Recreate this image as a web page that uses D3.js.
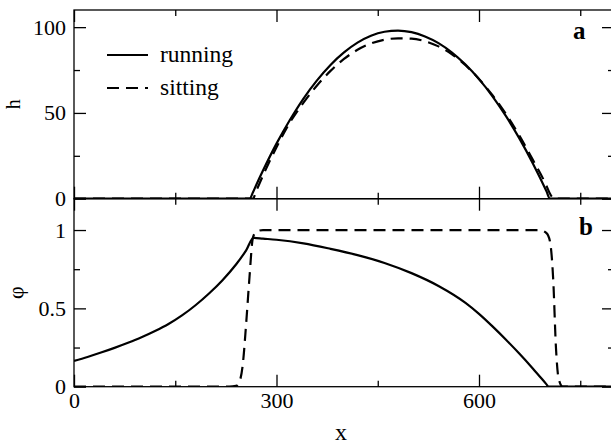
<!DOCTYPE html>
<html>
<head>
<meta charset="utf-8">
<script src="https://cdn.jsdelivr.net/npm/d3@7"></script>
</head>
<body style="margin:0">
<svg id="chart" width="611" height="444"></svg>
<script>
// panel a: height profile h(x)
const xA = [0, 100, 200, 250, 260, 265, 270, 280, 300, 320, 340, 360, 380, 400, 420, 440, 460, 480,
            500, 520, 540, 560, 580, 600, 620, 640, 660, 680, 700, 705, 712, 720, 800];
const hRunning = [0, 0, 0, 0, 0, 3.6, 8.0, 16.4, 32.1, 46.0, 58.4, 69.0, 78.0, 85.3, 91.0, 95.0, 97.3, 98.0,
                  97.1, 94.6, 90.7, 85.2, 78.2, 69.7, 59.7, 48.1, 35.0, 20.4, 4.3, 0, 0, 0, 0];
const hSitting = [0, 0, 0, 0, 0, 0, 4.5, 13.5, 30.0, 44.5, 56.0, 66.0, 74.5, 81.5, 86.8, 90.5, 92.7, 93.5,
                  93.3, 91.8, 88.8, 84.2, 77.8, 69.8, 60.3, 49.3, 36.6, 22.5, 7.5, 3.0, 0, 0, 0];

// panel b: phi(x)
const xRunB = [0, 20, 40, 60, 80, 100, 120, 140, 160, 180, 200, 220, 240, 255, 266,
               280, 300, 340, 380, 420, 460, 500, 540, 580, 600, 620, 640, 660, 680, 700, 703, 800];
const phiRunning = [0.165, 0.19, 0.218, 0.248, 0.28, 0.315, 0.355, 0.40, 0.455, 0.52, 0.595, 0.68, 0.78, 0.87, 0.95,
                    0.945, 0.938, 0.915, 0.88, 0.84, 0.79, 0.725, 0.643, 0.535, 0.465, 0.385, 0.30, 0.21, 0.115, 0.015, 0, 0];
const xSitB = [0, 230, 240, 245, 250, 255, 260, 265, 270, 280, 690, 700, 705, 710, 714, 718, 724, 800];
const phiSitting = [0, 0, 0.005, 0.03, 0.14, 0.4, 0.7, 0.95, 0.99, 1, 1, 0.98, 0.93, 0.68, 0.25, 0.05, 0, 0];

const xTicks = [0, 300, 600];
const xMinor = [150, 450, 750];
const hTicks = [0, 50, 100];
const hMinor = [25, 75];
const phiTicks = [0, 0.5, 1];
const phiMinor = [0.25, 0.75];
const seriesNames = ["running", "sitting"];

const svg = d3.select("#chart");
const left = 74, right = 614;
const x = d3.scaleLinear().domain([0, 800]).range([left, right]);
const yA = d3.scaleLinear().domain([0, 110]).range([198.7, 10]);
const yB = d3.scaleLinear().domain([0, 1.2]).range([386.7, 198.7]);

const dash = "12,7";
const serif = '"Liberation Serif"';

function panel(y, major, minor, labelFmt, showX, id) {
  const [y0, y1] = y.range();
  const g = svg.append("g");
  const mk = (axis, tr) => g.append("g").attr("transform", tr).call(axis)
    .call(s => s.select(".domain").remove())
    .call(s => s.selectAll("line").attr("stroke", "#000").attr("stroke-width", 1.3));

  // major ticks
  mk(d3.axisBottom(x).tickValues(xTicks).tickSizeInner(-12).tickSizeOuter(0).tickPadding(6)
      .tickFormat(showX ? d3.format("d") : () => ""), `translate(0,${y0})`);
  mk(d3.axisTop(x).tickValues(xTicks).tickSizeInner(-12).tickSizeOuter(0).tickFormat(() => ""),
     `translate(0,${y1})`);
  mk(d3.axisLeft(y).tickValues(major).tickSizeInner(-12).tickSizeOuter(0).tickPadding(8)
      .tickFormat(labelFmt), `translate(${left},0)`);
  mk(d3.axisRight(y).tickValues(major).tickSizeInner(-12).tickSizeOuter(0).tickFormat(() => ""),
     `translate(${right},0)`);
  // minor ticks
  mk(d3.axisBottom(x).tickValues(xMinor).tickSizeInner(-6).tickSizeOuter(0).tickFormat(() => ""),
     `translate(0,${y0})`);
  mk(d3.axisTop(x).tickValues(xMinor).tickSizeInner(-6).tickSizeOuter(0).tickFormat(() => ""),
     `translate(0,${y1})`);
  mk(d3.axisLeft(y).tickValues(minor).tickSizeInner(-6).tickSizeOuter(0).tickFormat(() => ""),
     `translate(${left},0)`);
  mk(d3.axisRight(y).tickValues(minor).tickSizeInner(-6).tickSizeOuter(0).tickFormat(() => ""),
     `translate(${right},0)`);

  g.selectAll("text").style("font-size", "22px").style("font-family", serif).attr("fill", "#000");

  svg.append("clipPath").attr("id", id)
    .append("rect").attr("x", left).attr("y", y1).attr("width", right - left).attr("height", y0 - y1);

  g.append("rect").attr("x", left).attr("y", y1).attr("width", right - left).attr("height", y0 - y1)
    .attr("fill", "none").attr("stroke", "#000").attr("stroke-width", 1.3);
  return g;
}

const gA = panel(yA, hTicks, hMinor, d3.format("d"), false, "clipA");
const gB = panel(yB, phiTicks, phiMinor, d => d === 0 ? "0" : d === 1 ? "1" : d3.format(".1f")(d), true, "clipB");

function curve(g, xs, ys, y, clip, dashed) {
  const line = d3.line().x(d => x(d[0])).y(d => y(d[1])).curve(d3.curveMonotoneX);
  g.append("path")
    .datum(d3.zip(xs, ys))
    .attr("d", line)
    .attr("clip-path", `url(#${clip})`)
    .attr("fill", "none")
    .attr("stroke", "#000")
    .attr("stroke-width", 2.2)
    .attr("stroke-dasharray", dashed ? dash : null);
}

curve(gA, xA, hSitting, yA, "clipA", true);
curve(gA, xA, hRunning, yA, "clipA", false);
curve(gB, xSitB, phiSitting, yB, "clipB", true);
curve(gB, xRunB, phiRunning, yB, "clipB", false);

function label(sel, size) {
  return sel.style("font-family", serif).style("font-size", size + "px");
}

// legend
const leg = svg.append("g");
seriesNames.forEach((name, i) => {
  const ly = 55 + i * 33;
  leg.append("line").attr("x1", 107).attr("x2", 148).attr("y1", ly).attr("y2", ly)
    .attr("stroke", "#000").attr("stroke-width", 2.2)
    .attr("stroke-dasharray", i === 1 ? dash : null);
  label(leg.append("text").attr("x", 160).attr("y", ly + 6.5), 23.5).text(name);
});

// panel letters
label(svg.append("text").attr("x", 573).attr("y", 39), 25).style("font-weight", "bold").text("a");
label(svg.append("text").attr("x", 579).attr("y", 235), 25).style("font-weight", "bold").text("b");

// axis titles
label(svg.append("text").attr("transform", `translate(20,${(yA.range()[0] + yA.range()[1]) / 2}) rotate(-90)`)
  .attr("text-anchor", "middle"), 20).text("h");
label(svg.append("text").attr("transform", `translate(23,${(yB.range()[0] + yB.range()[1]) / 2}) rotate(-90)`)
  .attr("text-anchor", "middle"), 22).text("φ");
label(svg.append("text").attr("x", (left + right) / 2 - 3).attr("y", 440)
  .attr("text-anchor", "middle"), 24).text("x");
</script>
</body>
</html>
